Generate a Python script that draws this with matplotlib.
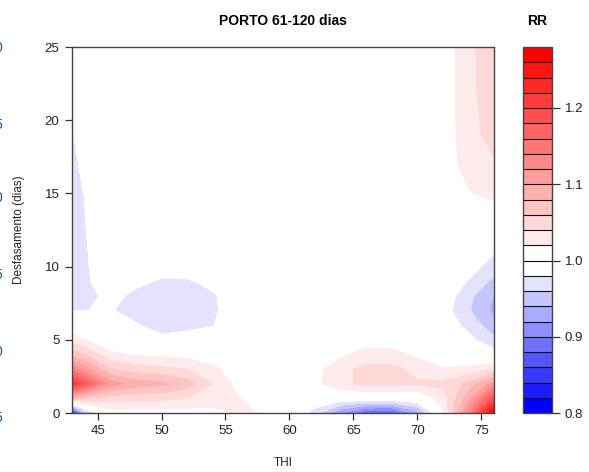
import numpy as np
import matplotlib
matplotlib.use("Agg")
import matplotlib.pyplot as plt
from matplotlib.colors import to_hex

plt.rcParams["font.family"] = ["Liberation Sans", "DejaVu Sans"]

# ── data ─────────────────────────────────────────────────────────────────────
thi = [43, 44, 46, 48, 50, 52, 54, 56, 58, 60, 62, 64, 66, 68, 70, 72, 74, 76]
lags = [0, 1, 2, 3, 4, 5, 6, 7, 8, 9, 10, 11, 13, 15, 17, 19, 22, 25]

# relative risk, one row per lag, one column per THI value
rr = [
    [0.82, 0.95, 1.01, 1.01, 1.01, 1.01, 1.01, 1.025, 1.018, 1.00, 0.97, 0.92, 0.88, 0.875, 0.93, 1.015, 1.13, 1.275],
    [1.08, 1.06, 1.05, 1.045, 1.045, 1.04, 1.035, 1.022, 1.005, 1.00, 1.00, 0.995, 1.00, 1.00, 1.00, 1.03, 1.09, 1.19],
    [1.22, 1.18, 1.11, 1.09, 1.085, 1.07, 1.04, 1.012, 1.002, 1.00, 1.015, 1.035, 1.045, 1.045, 1.042, 1.045, 1.065, 1.11],
    [1.13, 1.11, 1.06, 1.05, 1.045, 1.04, 1.025, 1.005, 1.00, 1.00, 1.012, 1.035, 1.045, 1.045, 1.035, 1.022, 1.025, 1.04],
    [1.07, 1.06, 1.025, 1.018, 1.015, 1.012, 1.005, 1.00, 1.00, 1.00, 1.00, 1.015, 1.028, 1.028, 1.015, 1.003, 1.00, 0.99],
    [1.03, 1.02, 1.00, 0.99, 0.983, 0.986, 0.99, 1.00, 1.00, 1.00, 1.00, 1.00, 1.008, 1.008, 1.00, 0.995, 0.985, 0.965],
    [1.005, 1.00, 0.99, 0.981, 0.975, 0.976, 0.979, 0.995, 1.00, 1.00, 1.00, 1.00, 1.00, 1.00, 1.00, 0.99, 0.975, 0.945],
    [0.979, 0.9798, 0.981, 0.975, 0.972, 0.972, 0.977, 0.99, 1.00, 1.00, 1.00, 1.00, 1.00, 1.00, 1.00, 0.99, 0.962, 0.935],
    [0.972, 0.974, 0.985, 0.976, 0.973, 0.972, 0.978, 0.99, 1.00, 1.00, 1.00, 1.00, 1.00, 1.00, 1.00, 0.995, 0.965, 0.94],
    [0.974, 0.977, 0.99, 0.984, 0.978, 0.978, 0.985, 0.995, 1.00, 1.00, 1.00, 1.00, 1.00, 1.00, 1.00, 1.00, 0.978, 0.955],
    [0.975, 0.978, 0.99, 0.99, 0.988, 0.988, 0.99, 1.00, 1.00, 1.00, 1.00, 1.00, 1.00, 1.00, 1.00, 1.00, 0.99, 0.97],
    [0.976, 0.9785, 0.99, 0.995, 0.995, 0.995, 0.995, 1.00, 1.00, 1.00, 1.00, 1.00, 1.00, 1.00, 1.00, 1.00, 0.995, 0.981],
    [0.977, 0.9795, 0.995, 1.00, 1.00, 1.00, 1.00, 1.00, 1.00, 1.00, 1.00, 1.00, 1.00, 1.00, 1.00, 1.00, 1.00, 0.995],
    [0.977, 0.9803, 0.995, 1.00, 1.00, 1.00, 1.00, 1.00, 1.00, 1.00, 1.00, 1.00, 1.00, 1.00, 1.00, 1.00, 1.018, 1.028],
    [0.978, 0.982, 1.00, 1.00, 1.00, 1.00, 1.00, 1.00, 1.00, 1.00, 1.00, 1.00, 1.00, 1.00, 1.00, 1.005, 1.03, 1.038],
    [0.979, 0.988, 1.00, 1.00, 1.00, 1.00, 1.00, 1.00, 1.00, 1.00, 1.00, 1.00, 1.00, 1.00, 1.00, 1.005, 1.034, 1.046],
    [0.985, 0.995, 1.00, 1.00, 1.00, 1.00, 1.00, 1.00, 1.00, 1.00, 1.00, 1.00, 1.00, 1.00, 1.00, 1.005, 1.035, 1.05],
    [0.99, 1.00, 1.00, 1.00, 1.00, 1.00, 1.00, 1.00, 1.00, 1.00, 1.00, 1.00, 1.00, 1.00, 1.00, 1.005, 1.036, 1.05],
]

levels = np.round(np.arange(0.80, 1.2801, 0.02), 2)
cbar_ticks = [0.8, 0.9, 1.0, 1.1, 1.2]
title = "PORTO 61-120 dias"

# blue->white below 1, white->red above 1 (as dlnm does)
n_blue = int(np.sum(levels < 1))
n_red = int(np.sum(levels > 1))
blues = [to_hex((j / (n_blue - 1), j / (n_blue - 1), 1.0)) for j in range(n_blue)]
reds = [to_hex((1.0, 1 - i / (n_red - 1), 1 - i / (n_red - 1))) for i in range(n_red)]
cols = blues + reds

# ── figure ───────────────────────────────────────────────────────────────────
W, H = 589, 472
fig = plt.figure(figsize=(W / 100, H / 100), dpi=100)
ax = fig.add_axes([72 / W, 1 - 413 / H, 422 / W, 366 / H])
cax = fig.add_axes([523 / W, 1 - 413 / H, 29 / W, 366 / H])

cs = ax.contourf(thi, lags, np.array(rr), levels=levels, colors=cols)
ax.set_xlim(43, 76)
ax.set_ylim(0, 25)
ax.set_xticks([45, 50, 55, 60, 65, 70, 75])
ax.set_yticks([0, 5, 10, 15, 20, 25])
ax.tick_params(direction="out", length=5, width=0.9, color="#333333",
               labelsize=9.5, labelcolor="#222222", pad=4)
for s in ax.spines.values():
    s.set_color("#444444")
    s.set_linewidth(1.0)
ax.set_xlabel("THI", fontsize=8.5, color="#222222", labelpad=14)
ax.set_ylabel("Desfasamento (dias)", fontsize=8.5, color="#222222", labelpad=14)
ax.set_title(title, fontsize=10, fontweight="bold", pad=16)

cb = fig.colorbar(cs, cax=cax, drawedges=True)
cb.dividers.set_color("#111111")
cb.dividers.set_linewidth(0.8)
cb.outline.set_edgecolor("#444444")
cb.outline.set_linewidth(1.0)
cb.set_ticks(cbar_ticks)
cb.set_ticklabels([f"{t:.1f}" for t in cbar_ticks])
cax.tick_params(direction="out", length=6, width=0.9, color="#333333",
                labelsize=9.5, labelcolor="#222222", pad=3)
cax.set_title("RR", fontsize=10, fontweight="bold", pad=16)

# cut-off labels from a neighbouring panel at the left border
for yp, t in zip([48, 125, 198, 275, 352, 418], ["0", "5", "0", "5", "0", "5"]):
    fig.text(0.0035, 1 - yp / H, t, ha="right", va="center", fontsize=10,
             color="#1f4f9f")

fig.savefig("out.png", dpi=100)
